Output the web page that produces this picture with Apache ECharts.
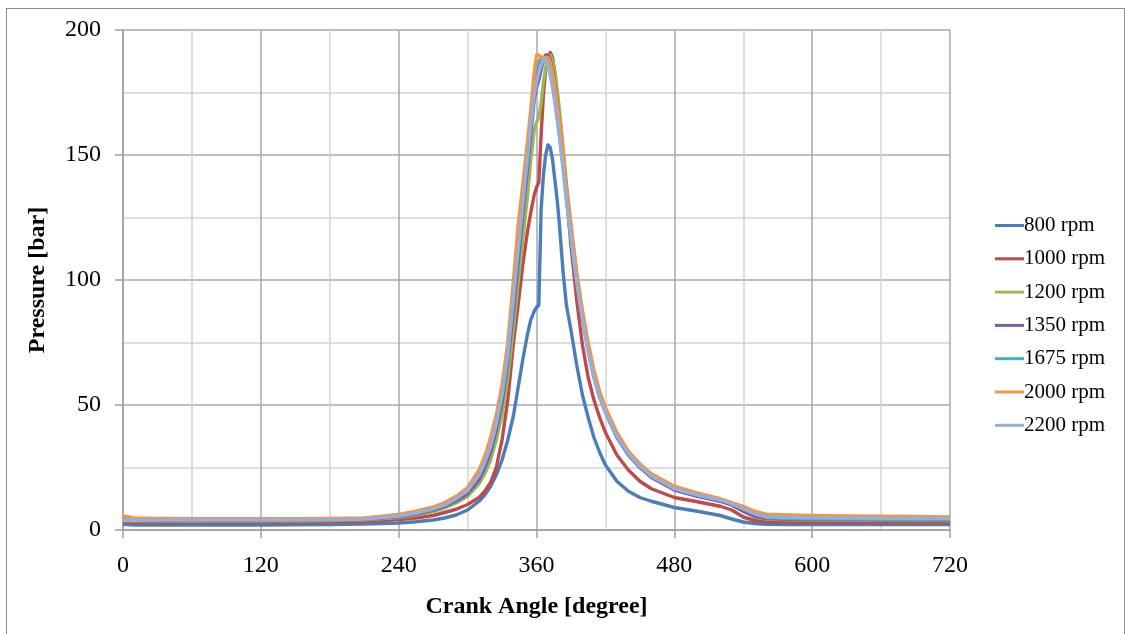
<!DOCTYPE html>
<html>
<head>
<meta charset="utf-8">
<script src="https://cdn.jsdelivr.net/npm/echarts@6/dist/echarts.min.js"></script>
<style>
  body { margin: 0; background: #fff; }
  #frame { position: absolute; left: 6px; top: 8px; width: 1117px; height: 660px; border: 1px solid #8c8c8c; }
  #chart { position: absolute; left: 0; top: 0; width: 1125px; height: 634px; }
</style>
</head>
<body>
<div id="frame"></div>
<div id="chart"></div>
<script>
// crank angle samples (degree)
const angles = [0, 10, 30, 60, 90, 120, 150, 180, 210, 240,
  255, 270, 280, 290, 300, 310, 315, 320, 325, 330,
  335, 340, 344, 348, 352, 355, 358, 360, 362, 364,
  366, 368, 370, 372, 374, 376, 378, 380, 383, 386,
  390, 395, 400, 405, 410, 415, 420, 430, 440, 450,
  460, 480, 500, 520, 530, 540, 550, 560, 580, 600,
  630, 660, 690, 720]

// pressure [bar] per engine speed
const p800 = [2.3, 2.0, 2.0, 2.0, 2.0, 2.0, 2.1, 2.2, 2.4, 2.8,
  3.3, 4.0, 4.8, 6.0, 8.0, 11.5, 14, 17.5, 22, 28,
  36, 46, 57, 68, 78, 84, 87.5, 89, 90, 128,
  142, 150, 154, 153, 148, 140, 132, 122, 104, 90,
  80, 66, 54, 45, 37, 31, 26, 19.5, 15.5, 13,
  11.5, 9, 7.5, 5.8, 4.4, 3.2, 2.6, 2.3, 2.2, 2.2,
  2.2, 2.2, 2.2, 2.2]
const p1000 = [3.2, 3.0, 3.0, 3.0, 3.0, 3.0, 3.0, 3.1, 3.3, 4.2,
  4.8, 5.8, 7.0, 8.3, 10.2, 13, 15.5, 19, 25, 36,
  52, 75, 90, 106, 119, 127, 134, 137, 139, 158,
  174, 184, 189, 191, 189, 183, 174, 166, 150, 134,
  114, 92, 74, 61, 52, 45, 39, 30, 24, 19.5,
  16.5, 13, 11.3, 9.5, 8, 5.2, 3.8, 3.3, 3.0, 3.0,
  3.0, 2.9, 2.9, 2.9]
const p1200 = [3.8, 3.6, 3.6, 3.6, 3.6, 3.6, 3.7, 3.8, 4.1, 5.0,
  6.0, 7.4, 8.8, 10.8, 13.5, 18.5, 22.5, 28, 36, 46,
  61, 81, 99, 116, 133, 148, 160, 163, 165, 171,
  179, 185, 189, 190, 188, 183, 176, 168, 154, 139,
  122, 102, 86, 73, 62, 54, 47.5, 37.5, 30.5, 25.5,
  21.5, 16.5, 14, 11.5, 10, 7.5, 5.2, 4.4, 4.1, 4.0,
  3.9, 3.9, 3.8, 3.8]
const p1350 = [3.8, 3.8, 3.8, 3.8, 3.8, 3.8, 3.9, 4.0, 4.3, 5.3,
  6.4, 7.9, 9.4, 11.6, 14.5, 20, 25, 31, 40, 51,
  67, 88, 107, 126, 144, 158, 172, 177, 180, 184,
  188, 190, 190, 188, 184, 178, 171, 163, 150, 136,
  120, 101, 85, 72, 61, 53, 47, 37, 30, 25,
  21, 16, 13.5, 11.5, 10, 7.5, 5.5, 4.6, 4.3, 4.2,
  4.1, 4.1, 4.0, 4.0]
const p1675 = [4.5, 4.5, 4.5, 4.5, 4.5, 4.5, 4.4, 4.4, 4.6, 5.6,
  6.8, 8.5, 10.2, 12.7, 16, 22.5, 27.5, 34, 43, 55,
  71, 95, 115, 133, 151, 165, 178, 184, 187, 189,
  189, 188, 186, 183, 178, 172, 165, 158, 146, 133,
  118, 100, 85, 72, 62, 54, 48, 38, 31, 26,
  22, 17, 14, 12, 10.5, 8.5, 6.5, 5, 4.6, 4.5,
  4.4, 4.3, 4.2, 4.2]
const p2000 = [5.6, 4.8, 4.6, 4.5, 4.5, 4.5, 4.5, 4.6, 4.8, 6.2,
  7.5, 9.2, 11, 13.5, 17, 24, 29.5, 37, 46, 58,
  75, 100, 122, 138, 155, 168, 183, 190, 190, 189,
  189, 189, 189, 187, 183, 177, 170, 164, 152, 137,
  122, 103, 88, 75, 64, 55.5, 49, 39, 31.5, 26.5,
  22.5, 17.5, 14.8, 12.5, 11, 9.5, 7.5, 6.3, 6.0, 5.8,
  5.6, 5.5, 5.4, 5.2]
const p2200 = [3.8, 3.9, 4.0, 4.0, 4.0, 4.0, 4.0, 4.1, 4.4, 5.6,
  6.8, 8.4, 10, 12.5, 15.8, 22, 27, 33.5, 42.5, 54,
  70, 93, 112, 130, 148, 162, 174, 179, 183, 186,
  188, 188, 186, 182, 177, 171, 164, 157, 145, 132,
  117, 99, 84, 71, 61, 53, 47, 37.5, 30.5, 25.5,
  21.5, 16.5, 14, 12, 10.5, 8.5, 6.5, 5.3, 5.0, 4.9,
  4.8, 4.7, 4.6, 4.6]

const names = ['800 rpm', '1000 rpm', '1200 rpm', '1350 rpm', '1675 rpm', '2000 rpm', '2200 rpm']
const values = [p800, p1000, p1200, p1350, p1675, p2000, p2200]
const colors = ['#4a7ebb', '#be4b48', '#98b954', '#7d60a0', '#46aac5', '#f59540', '#94afdc']

const font = 'Liberation Serif'
const mycharts = echarts.init(document.getElementById('chart'), null, { renderer: 'canvas' })

const option = {
  animation: false,
  color: colors,
  grid: { left: 123, right: 175, top: 30, bottom: 104 },
  legend: {
    orient: 'vertical',
    left: 990,
    top: 210,
    icon: 'rect',
    itemWidth: 29,
    itemHeight: 3,
    itemGap: 12.3,
    data: names,
    textStyle: { fontFamily: font, fontSize: 21, color: '#000', padding: [0, 0, 0, -5] },
  },
  xAxis: {
    type: 'value',
    min: 0,
    max: 720,
    interval: 120,
    name: 'Crank Angle [degree]',
    nameLocation: 'middle',
    nameGap: 65,
    nameTextStyle: { fontFamily: font, fontSize: 24, fontWeight: 'bold', color: '#000' },
    axisLine: { show: true, lineStyle: { color: '#a0a0a0', width: 1.5 } },
    axisTick: { show: true, length: 8, lineStyle: { color: '#a0a0a0', width: 1.5 } },
    axisLabel: { fontFamily: font, fontSize: 24, color: '#000', margin: 24 },
    splitLine: { show: true, lineStyle: { color: '#a8a8a8', width: 1.5 } },
    minorTick: { show: false, splitNumber: 2 },
    minorSplitLine: { show: true, lineStyle: { color: '#d4d4d4', width: 1.5 } },
  },
  yAxis: {
    type: 'value',
    min: 0,
    max: 200,
    interval: 50,
    name: 'Pressure [bar]',
    nameLocation: 'middle',
    nameGap: 73,
    nameTextStyle: { fontFamily: font, fontSize: 24, fontWeight: 'bold', color: '#000' },
    axisLine: { show: true, lineStyle: { color: '#a0a0a0', width: 1.5 } },
    axisTick: { show: true, length: 8, lineStyle: { color: '#a0a0a0', width: 1.5 } },
    axisLabel: { fontFamily: font, fontSize: 24, color: '#000', margin: 22 },
    splitLine: { show: true, lineStyle: { color: '#a8a8a8', width: 1.5 } },
    minorTick: { show: false, splitNumber: 2 },
    minorSplitLine: { show: true, lineStyle: { color: '#d4d4d4', width: 1.5 } },
  },
  series: names.map((name, i) => ({
    name: name,
    type: 'line',
    showSymbol: false,
    smooth: false,
    lineStyle: { width: 3.4, join: 'round' },
    data: angles.map((a, k) => [a, values[i][k]]),
  })),
}
mycharts.setOption(option)
</script>
</body>
</html>
